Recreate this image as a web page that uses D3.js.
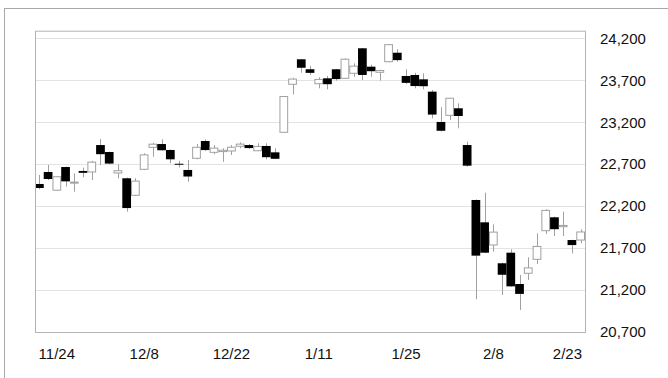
<!DOCTYPE html>
<html>
<head>
<meta charset="utf-8">
<script src="https://cdn.jsdelivr.net/npm/d3@7"></script>
<style>
  html, body { margin: 0; padding: 0; background: #fff; }
  svg { display: block; }
  text { font-family: "Liberation Sans", Arial, sans-serif; fill: #111; }
</style>
</head>
<body>
<svg id="chart" width="668" height="378"></svg>
<script>
// Daily sessions, 21 Nov – 23 Feb
const dates = ["11/21","11/22","11/24","11/27","11/28","11/29","11/30","12/1","12/4","12/5",
  "12/6","12/7","12/8","12/11","12/12","12/13","12/14","12/15","12/18","12/19",
  "12/20","12/21","12/22","12/25","12/26","12/27","12/28","12/29","1/4","1/5",
  "1/9","1/10","1/11","1/12","1/15","1/16","1/17","1/18","1/19","1/22",
  "1/23","1/24","1/25","1/26","1/29","1/30","1/31","2/1","2/2","2/5",
  "2/6","2/7","2/8","2/9","2/13","2/14","2/15","2/16","2/19","2/20",
  "2/21","2/22","2/23"];
const open = [22464,22607,22390,22666,22475,22619,22607,22928,22845,22595,
  22532,22329,22639,22901,22940,22869,22705,22631,22770,22976,
  22841,22850,22857,22913,22928,22860,22917,22841,23080,23652,
  23950,23831,23659,23723,23831,23723,23783,24081,23862,23795,
  23921,24028,23751,23763,23711,23564,23203,23282,23366,22928,
  22273,22007,21737,21519,21645,21272,21400,21566,21907,22067,
  21955,21796,21796];
const high = [22571,22690,22560,22672,22591,22658,22740,23000,22850,22698,
  22540,22532,22830,22955,22996,22875,22740,22750,22940,22996,
  22928,22889,22928,22960,22940,22949,22949,22889,23512,23730,
  23952,23870,23735,23751,23835,23962,23902,24084,23885,23825,
  24130,24072,23831,23790,23783,23584,23378,23490,23425,22968,
  22280,22360,21983,21525,21685,21379,21590,21876,22162,22075,
  22134,21800,21924];
const low = [22400,22510,22380,22432,22372,22543,22511,22690,22700,22531,
  22134,22320,22630,22789,22860,22710,22660,22491,22758,22860,
  22818,22728,22809,22889,22880,22855,22758,22760,23073,23532,
  23790,23763,23604,23592,23695,23715,23742,23703,23742,23695,
  23915,23920,23655,23604,23592,23247,23090,23226,23127,22670,
  21090,21640,21657,21141,21240,20962,21320,21510,21868,21844,
  21844,21638,21757];
const close = [22416,22523,22550,22495,22486,22597,22724,22819,22707,22622,
  22177,22498,22811,22938,22866,22758,22694,22553,22901,22868,
  22891,22866,22902,22939,22892,22911,22783,22764,23506,23714,
  23849,23788,23710,23653,23714,23951,23868,23763,23808,23816,
  24124,23940,23669,23631,23629,23291,23098,23486,23274,22682,
  21610,21645,21890,21382,21244,21154,21464,21720,22149,21925,
  21970,21736,21892];

const xTickLabels = ["11/24","12/8","12/22","1/11","1/25","2/8","2/23"];
const yTickValues = [20700,21200,21700,22200,22700,23200,23700,24200];

const candles = dates.map((d, i) => ({ d, o: open[i], h: high[i], l: low[i], c: close[i] }));

const svg = d3.select("#chart");
const plot = { left: 35, right: 585, top: 30.7, bottom: 332 };

const x = d3.scaleBand().domain(dates).range([plot.left, plot.right]).padding(0);
const y = d3.scaleLinear().domain([20700, 24200]).range([plot.bottom, 38.3]);
const cx = d => x(d) + x.bandwidth() / 2;

// outer panel border (left and top edges)
svg.append("line").attr("x1", 4.5).attr("x2", 4.5).attr("y1", 8).attr("y2", 378)
  .attr("stroke", "#a8a8a8");
svg.append("line").attr("x1", 4).attr("x2", 668).attr("y1", 8.5).attr("y2", 8.5)
  .attr("stroke", "#a8a8a8");

// horizontal grid
svg.append("g").selectAll("line").data(yTickValues).join("line")
  .attr("x1", plot.left).attr("x2", plot.right)
  .attr("y1", v => Math.round(y(v)) + 0.5).attr("y2", v => Math.round(y(v)) + 0.5)
  .attr("stroke", "#e3e3e3");

svg.append("clipPath").attr("id", "plotclip").append("rect")
  .attr("x", plot.left).attr("y", plot.top)
  .attr("width", plot.right - plot.left).attr("height", plot.bottom - plot.top);

const g = svg.append("g").attr("clip-path", "url(#plotclip)");

// wicks
g.selectAll("line.wick").data(candles).join("line")
  .attr("class", "wick")
  .attr("x1", d => Math.round(cx(d.d)) + 0.5).attr("x2", d => Math.round(cx(d.d)) + 0.5)
  .attr("y1", d => y(d.h)).attr("y2", d => y(d.l))
  .attr("stroke", "#a0a0a0").attr("stroke-width", 1);

// bodies: hollow when the close is up, solid black when down
const bw = x.bandwidth();
g.selectAll("rect.body").data(candles).join("rect")
  .attr("class", "body")
  .attr("x", d => d.c >= d.o ? x(d.d) + 0.5 : x(d.d))
  .attr("width", d => d.c >= d.o ? bw - 1 : bw)
  .attr("y", d => y(Math.max(d.o, d.c)))
  .attr("height", d => Math.max(1, Math.abs(y(d.o) - y(d.c))))
  .attr("fill", d => d.c >= d.o ? "#fff" : "#000")
  .attr("stroke", d => d.c >= d.o ? "#a0a0a0" : "none")
  .attr("stroke-width", 1);

// plot frame
svg.append("rect")
  .attr("x", plot.left + 0.5).attr("y", plot.top + 0.5)
  .attr("width", plot.right - plot.left).attr("height", plot.bottom - plot.top)
  .attr("fill", "none").attr("stroke", "#b4b4b4");

// right-hand value axis
const yAxis = d3.axisRight(y).tickValues(yTickValues).tickSize(0).tickPadding(0)
  .tickFormat(d3.format(","));
svg.append("g").attr("transform", `translate(600,0)`).call(yAxis)
  .call(a => a.select(".domain").remove())
  .call(a => a.selectAll("text").attr("font-size", 15)
    .attr("font-family", "Liberation Sans, Arial, sans-serif").attr("fill", "#111"));

// date axis
const xAxis = d3.axisBottom(x).tickValues(xTickLabels).tickSize(0).tickPadding(0);
const xa = svg.append("g").attr("transform", `translate(0,348)`).call(xAxis);
xa.select(".domain").remove();
xa.selectAll("text").attr("font-size", 15)
  .attr("font-family", "Liberation Sans, Arial, sans-serif").attr("fill", "#111")
  .attr("dy", "0.71em");
// keep the last label inside the frame
xa.selectAll(".tick").each(function(d) {
  const t = d3.select(this).select("text");
  const w = t.node().getComputedTextLength();
  const c = cx(d);
  const limit = plot.right - w / 2 - 3;
  if (c > limit) t.attr("x", limit - c);
});
</script>
</body>
</html>
